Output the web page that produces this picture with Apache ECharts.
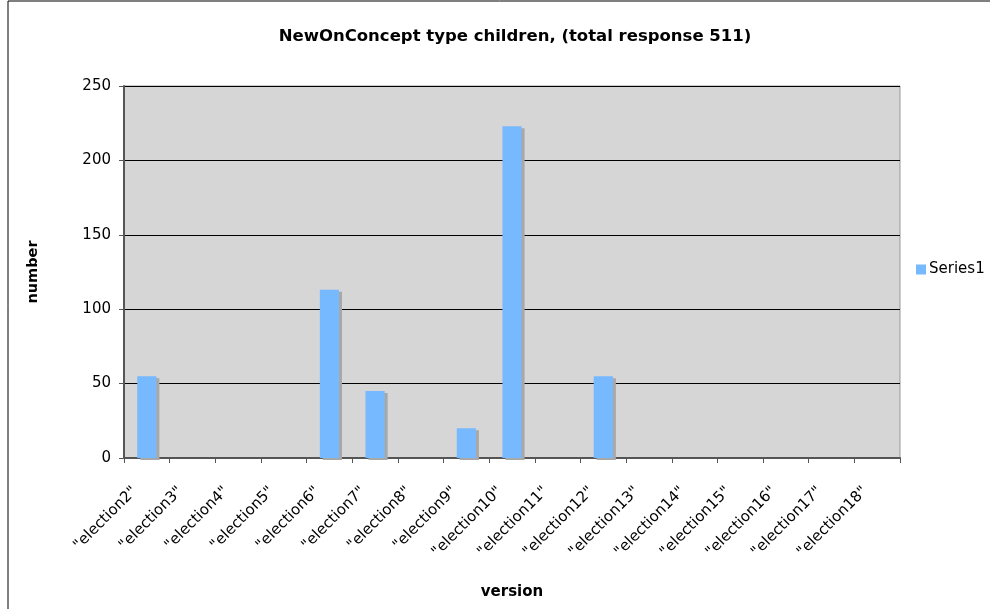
<!DOCTYPE html>
<html>
<head>
<meta charset="utf-8">
<script src="https://cdn.jsdelivr.net/npm/echarts@6/dist/echarts.min.js"></script>
<style>
  html, body { margin: 0; padding: 0; background: #fff; }
  #chart { width: 990px; height: 609px; }
</style>
</head>
<body>
<div id="chart"></div>
<script>
// Categories along the x axis
const categories = [
  '"election2"', '"election3"', '"election4"', '"election5"', '"election6"',
  '"election7"', '"election8"', '"election9"', '"election10"', '"election11"',
  '"election12"', '"election13"', '"election14"', '"election15"', '"election16"',
  '"election17"', '"election18"'
];
// Number of responses per version
const series1 = [55, 0, 0, 0, 113, 45, 0, 20, 223, 0, 55, 0, 0, 0, 0, 0, 0];
// Value axis range
const yMin = 0, yMax = 250, yStep = 50;

const FONT = 'DejaVu Sans, Verdana, sans-serif';
const chart = echarts.init(document.getElementById('chart'), null, { renderer: 'canvas' });

chart.setOption({
  animation: false,
  backgroundColor: '#ffffff',
  title: {
    text: 'NewOnConcept type children, (total response 511)',
    left: 510, top: 23, textAlign: 'center',
    textStyle: { fontFamily: FONT, fontSize: 16.5, fontWeight: 'bold', color: '#000' }
  },
  legend: {
    data: ['Series1'],
    left: 911, top: 257,
    itemWidth: 10, itemHeight: 10, itemGap: 4,
    icon: 'rect',
    textStyle: { fontFamily: FONT, fontSize: 15, color: '#000', padding: [0, 0, 0, -2] }
  },
  grid: {
    left: 124, right: 90, top: 86, bottom: 151,
    show: true, backgroundColor: '#d6d6d6', borderColor: '#999999', borderWidth: 1
  },
  xAxis: {
    type: 'category',
    data: categories,
    name: 'version',
    nameLocation: 'middle',
    nameGap: 127,
    nameTextStyle: { fontFamily: FONT, fontSize: 15, fontWeight: 'bold', color: '#000' },
    axisLine: { lineStyle: { color: '#555', width: 2 } },
    axisTick: { show: true, length: 5, lineStyle: { color: '#555' } },
    axisLabel: {
      rotate: 45, interval: 0, margin: 19, padding: [0, 17, 0, 0],
      fontFamily: FONT, fontSize: 15, color: '#000'
    }
  },
  yAxis: {
    type: 'value',
    min: yMin, max: yMax, interval: yStep,
    name: 'number',
    nameLocation: 'middle',
    nameGap: 83,
    nameRotate: 90,
    nameTextStyle: { fontFamily: FONT, fontSize: 14.5, fontWeight: 'bold', color: '#000' },
    axisLine: { show: true, lineStyle: { color: '#555', width: 2 } },
    axisTick: { show: true, length: 5, lineStyle: { color: '#555' } },
    axisLabel: { margin: 13, fontFamily: FONT, fontSize: 15, color: '#000' },
    splitLine: { show: true, lineStyle: { color: '#000', width: 1 } }
  },
  series: [{
    name: 'Series1',
    type: 'bar',
    data: series1,
    barWidth: '42%',
    itemStyle: {
      color: '#77b9ff',
      shadowColor: '#a8a8a8',
      shadowOffsetX: 3,
      shadowOffsetY: 2,
      shadowBlur: 0
    }
  }],
  graphic: [{
    type: 'rect',
    shape: { x: 8, y: 1, width: 1100, height: 700 },
    style: { fill: 'none', stroke: '#000', lineWidth: 1 },
    silent: true, z: 100
  }]
});
</script>
</body>
</html>
